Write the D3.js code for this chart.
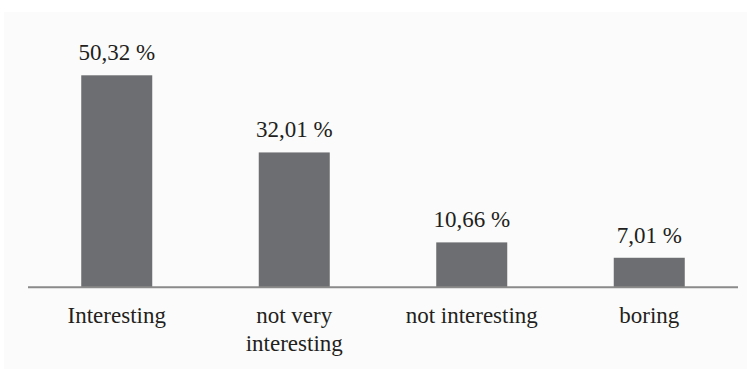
<!DOCTYPE html>
<html>
<head>
<meta charset="utf-8">
<script src="https://cdn.jsdelivr.net/npm/d3@7"></script>
<style>
  html, body { margin: 0; padding: 0; background: #ffffff; }
  svg { display: block; }
</style>
</head>
<body>
<svg id="survey" width="747" height="369"></svg>
<script>
// Survey answers and their shares (percent)
const categories = ["Interesting", "not very interesting", "not interesting", "boring"];
const categoryLines = [["Interesting"], ["not very", "interesting"], ["not interesting"], ["boring"]];
const values = [50.32, 32.01, 10.66, 7.01];
const valueLabels = ["50,32 %", "32,01 %", "10,66 %", "7,01 %"];

const W = 747, H = 369;
const svg = d3.select("#survey");

// panel background
svg.append("rect")
  .attr("x", 4).attr("y", 12)
  .attr("width", W - 4).attr("height", H - 12)
  .attr("fill", "#fbfbfb");

const left = 28, right = 738, baseline = 287.3;

const x = d3.scaleBand()
  .domain(categories)
  .range([left, right])
  .paddingInner(0.6)
  .paddingOuter(0.3);

// 50.32 % reaches y = 75.3
const y = d3.scaleLinear()
  .domain([0, 50.32])
  .range([baseline, 75.3]);

const font = "'Liberation Serif', serif";
const textColor = "#231f20";

// bars
svg.append("g")
  .selectAll("rect")
  .data(values)
  .join("rect")
  .attr("x", (d, i) => x(categories[i]))
  .attr("y", d => y(d))
  .attr("width", x.bandwidth())
  .attr("height", d => baseline - y(d))
  .attr("fill", "#6d6e71");

// value labels
svg.selectAll("text.value")
  .data(values)
  .join("text")
  .attr("class", "value")
  .attr("x", (d, i) => x(categories[i]) + x.bandwidth() / 2)
  .attr("y", d => y(d) - 15)
  .attr("text-anchor", "middle")
  .style("font-family", font, "important")
  .style("font-size", "23px", "important")
  .attr("fill", textColor)
  .text((d, i) => valueLabels[i]);

// category axis (baseline only, no ticks)
const axis = svg.append("g")
  .attr("transform", `translate(0,${baseline})`)
  .call(d3.axisBottom(x).tickSize(0).tickFormat(""));
axis.select(".domain")
  .attr("stroke", "#8a8a8a")
  .attr("stroke-width", 2)
  .attr("d", `M${left},0H${right}`);

// category labels, wrapped
const cat = svg.selectAll("text.cat")
  .data(categories)
  .join("text")
  .attr("class", "cat")
  .attr("x", d => x(d) + x.bandwidth() / 2)
  .attr("y", 323)
  .attr("text-anchor", "middle")
  .style("font-family", font, "important")
  .style("font-size", "23px", "important")
  .attr("fill", textColor);

cat.each(function (d, i) {
  const t = d3.select(this);
  categoryLines[i].forEach((line, j) => {
    t.append("tspan")
      .attr("x", x(d) + x.bandwidth() / 2)
      .attr("dy", j === 0 ? 0 : 27.5)
      .style("font-family", font, "important")
      .text(line);
  });
});
</script>
</body>
</html>
